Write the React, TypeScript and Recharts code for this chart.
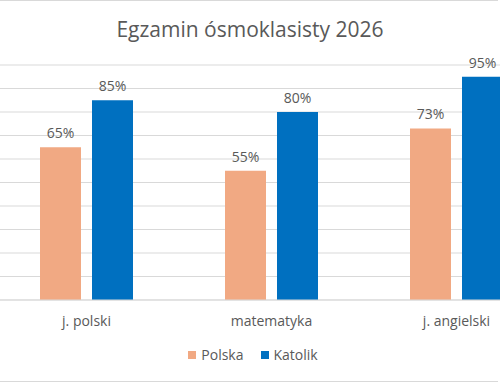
import { BarChart, Bar, XAxis, YAxis, CartesianGrid, LabelList, Legend } from 'recharts'

const subjects = ['j. polski', 'matematyka', 'j. angielski']
const seriesNames = ['Polska', 'Katolik']
const polska = [65, 55, 73]
const katolik = [85, 80, 95]
const yTicks = [0, 10, 20, 30, 40, 50, 60, 70, 80, 90, 100]

const data = subjects.map((s, i) => ({ subject: s, Polska: polska[i], Katolik: katolik[i] }))

const FONT = '"Open Sans", "Noto Sans", sans-serif'
const TEXT = '#595959'

function LegendContent({ payload }: any) {
  const items = seriesNames
    .map((n) => (payload || []).find((p: any) => p.value === n))
    .filter(Boolean)
  return (
    <div style={{ display: 'flex', justifyContent: 'center', gap: 17, fontFamily: FONT, fontSize: 14, color: TEXT }}>
      {items.map((p: any) => (
        <div key={p.value} style={{ display: 'flex', alignItems: 'center' }}>
          <span style={{ width: 8, height: 8, background: p.color, marginRight: 5, display: 'inline-block' }} />
          {p.value}
        </div>
      ))}
    </div>
  )
}

export default function App() {
  return (
    <div
      style={{
        position: 'fixed', left: 0, top: 0, width: 500, height: 383,
        overflow: 'hidden', background: '#fff',
      }}
    >
      <div style={{ position: 'absolute', left: 0, top: 0, width: 498, height: 380, borderTop: '1px solid #d9d9d9', borderBottom: '1px solid #d9d9d9' }} />
      <div
        style={{
          position: 'absolute', left: 0, top: 15, width: 500, textAlign: 'center',
          fontFamily: FONT, fontSize: 21, color: TEXT,
        }}
      >
        Egzamin ósmoklasisty 2026
      </div>
      <div style={{ position: 'absolute', left: -6, top: 0 }}>
        <BarChart
          width={555}
          height={383}
          data={data}
          margin={{ top: 65, right: 0, bottom: 53, left: 0 }}
          barCategoryGap="25%"
          barGap={11}
        >
          <CartesianGrid vertical={false} stroke="#d9d9d9" />
          <YAxis hide domain={[0, 100]} ticks={yTicks} />
          <XAxis
            dataKey="subject"
            height={30}
            tickLine={false}
            axisLine={{ stroke: '#d9d9d9' }}
            tick={{ fontSize: 14, fill: TEXT, fontFamily: FONT }}
            tickMargin={10}
          />
          <Legend
            verticalAlign="middle"
            content={<LegendContent />}
            wrapperStyle={{ top: 345, left: 0, width: 518 }}
          />
          <Bar dataKey="Polska" fill="#F1A983" barSize={41} isAnimationActive={false}>
            <LabelList dataKey="Polska" position="top" offset={9} formatter={(v: any) => `${v}%`} style={{ fontSize: 14, fill: TEXT, fontFamily: FONT }} />
          </Bar>
          <Bar dataKey="Katolik" fill="#0070C0" barSize={41} isAnimationActive={false}>
            <LabelList dataKey="Katolik" position="top" offset={9} formatter={(v: any) => `${v}%`} style={{ fontSize: 14, fill: TEXT, fontFamily: FONT }} />
          </Bar>
        </BarChart>
      </div>
    </div>
  )
}
